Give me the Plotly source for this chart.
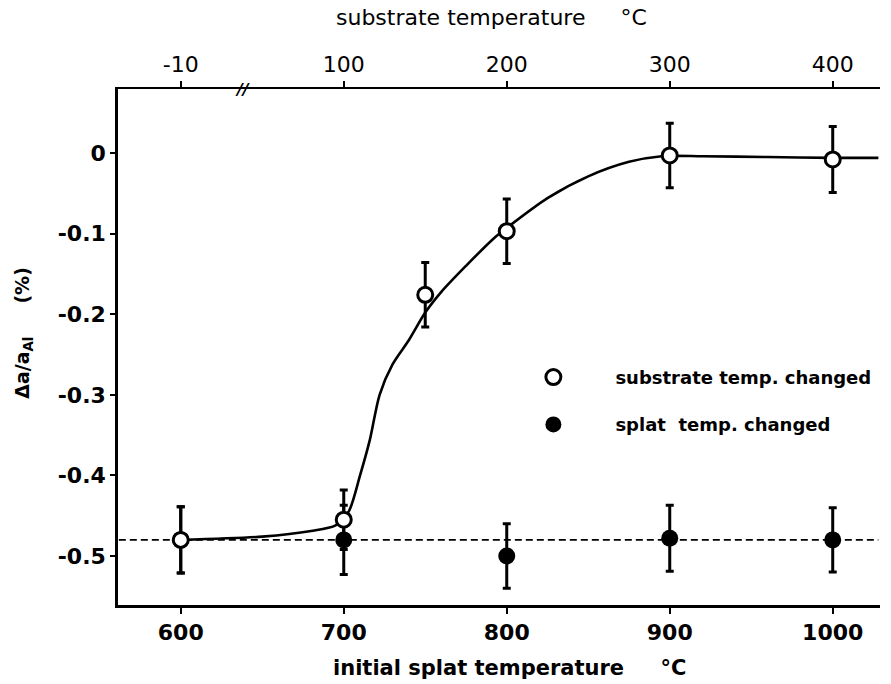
import plotly.graph_objects as go

# ---- data ----
sub_x = [600, 700, 750, 800, 900, 1000]
sub_y = [-0.480, -0.455, -0.176, -0.097, -0.003, -0.008]
sub_err = [0.041, 0.037, 0.040, 0.040, 0.040, 0.041]

splat_x = [600, 700, 800, 900, 1000]
splat_y = [-0.480, -0.480, -0.500, -0.478, -0.480]
splat_err = [0.041, 0.043, 0.040, 0.041, 0.040]

curve_x = [600, 650, 680, 695, 703, 710, 716, 722, 730, 740, 750, 760, 775, 792, 800, 825, 850, 875, 895, 920, 960, 1000, 1028]
curve_y = [-0.480, -0.476, -0.469, -0.462, -0.445, -0.400, -0.356, -0.300, -0.262, -0.232, -0.198, -0.172, -0.140, -0.106, -0.093, -0.056, -0.029, -0.011, -0.004, -0.004, -0.005, -0.006, -0.006]

base_x = [562, 1028]
base_y = [-0.480, -0.480]

bottom_ticks = [600, 700, 800, 900, 1000]
top_ticktext = ["-10", "100", "200", "300", "400"]
y_ticks = [0, -0.1, -0.2, -0.3, -0.4, -0.5]
y_ticktext = ["0", "-0.1", "-0.2", "-0.3", "-0.4", "-0.5"]

FONT = "DejaVu Sans"
X_RANGE = [561.5, 1029]
Y_RANGE = [-0.5608, 0.0794]

fig = go.Figure()

fig.add_trace(go.Scatter(x=base_x, y=base_y, mode="lines",
                         line=dict(color="black", width=1.6, dash="7px,4px"),
                         showlegend=False, hoverinfo="skip"))
fig.add_trace(go.Scatter(x=curve_x, y=curve_y, mode="lines",
                         line=dict(color="black", width=2.6, shape="spline", smoothing=0.8),
                         showlegend=False, hoverinfo="skip"))

fig.add_trace(go.Scatter(
    x=splat_x, y=splat_y, mode="markers", name="splat\u00a0\u00a0temp. changed",
    legendgroup="b", legendrank=2,
    marker=dict(symbol="circle", size=17, color="black", line=dict(color="black", width=0)),
    error_y=dict(type="data", array=splat_err, visible=True, color="black", thickness=3, width=4),
))
fig.add_trace(go.Scatter(
    x=sub_x, y=sub_y, mode="markers", name="substrate temp. changed",
    legendgroup="a", legendrank=1,
    marker=dict(symbol="circle", size=15, color="white", line=dict(color="black", width=3)),
    error_y=dict(type="data", array=sub_err, visible=True, color="black", thickness=3, width=4),
))

fig.update_layout(
    width=891, height=684,
    margin=dict(l=118, r=11, t=89, b=79),
    paper_bgcolor="white", plot_bgcolor="white",
    font=dict(family=FONT, color="black", size=20),
    showlegend=True,
    legend=dict(x=0.49, y=0.477, xanchor="left", yanchor="top",
                font=dict(family=FONT, size=18, color="black", weight="bold"),
                itemwidth=114, tracegroupgap=21, traceorder="grouped",
                bgcolor="rgba(0,0,0,0)"),
    xaxis=dict(range=X_RANGE, tickvals=bottom_ticks, ticktext=[str(v) for v in bottom_ticks],
               showline=True, linecolor="black", linewidth=2.5, ticks="outside",
               ticklen=6, tickwidth=2, tickcolor="black", showgrid=False, zeroline=False,
               tickfont=dict(family=FONT, size=22, weight="bold")),
    xaxis2=dict(range=X_RANGE, overlaying="x", side="top", tickvals=bottom_ticks,
                ticktext=top_ticktext, showline=True, linecolor="black", linewidth=2,
                ticks="outside", ticklen=6, tickwidth=2, tickcolor="black",
                showgrid=False, zeroline=False, tickfont=dict(family=FONT, size=22)),
    yaxis=dict(range=Y_RANGE, tickvals=y_ticks, ticktext=y_ticktext,
               showline=True, linecolor="black", linewidth=2.5, ticks="outside",
               ticklen=5, tickwidth=2, tickcolor="black", showgrid=False, zeroline=False,
               tickfont=dict(family=FONT, size=22, weight="bold")),
)

# invisible trace to activate the top axis
fig.add_trace(go.Scatter(x=[X_RANGE[0]], y=[Y_RANGE[0]], xaxis="x2", mode="markers",
                         marker=dict(opacity=0), showlegend=False, hoverinfo="skip"))

nb = "\u00a0"
fig.add_annotation(text="initial splat temperature" + nb * 5 + "°C", xref="paper", yref="paper",
                   x=0.514, y=-0.122, xanchor="center", yanchor="middle", showarrow=False,
                   font=dict(family=FONT, size=21, weight="bold"))
fig.add_annotation(text="substrate temperature" + nb * 5 + "°C", xref="paper", yref="paper",
                   x=0.49, y=1.138, xanchor="center", yanchor="middle", showarrow=False,
                   font=dict(family=FONT, size=22))
fig.add_annotation(text="Δa/a<sub>Al</sub>" + nb * 5 + "(%)", xref="paper", yref="paper",
                   x=-0.125, y=0.527, xanchor="center", yanchor="middle", textangle=-90,
                   showarrow=False, font=dict(family=FONT, size=19, weight="bold"))
fig.add_annotation(text="<i><b>//</b></i>", xref="x", yref="paper", x=638, y=1.0,
                   xanchor="center", yanchor="middle", showarrow=False,
                   font=dict(family=FONT, size=16))

fig.write_html("out.html")
